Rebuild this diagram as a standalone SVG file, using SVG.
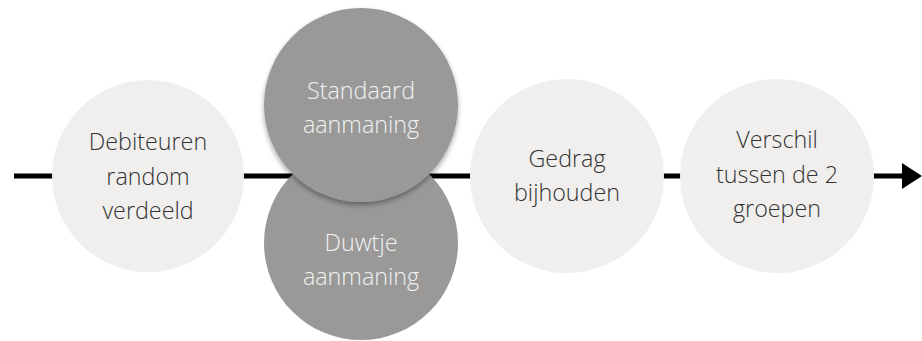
<svg xmlns="http://www.w3.org/2000/svg" width="922" height="341" viewBox="0 0 922 341">
<style>
.light{fill:#f0efee}
.dark{fill:#9a9998}
text{font-family:"Open Sans","Liberation Sans",sans-serif;font-weight:300;font-size:23.3px;text-anchor:middle}
.t1{fill:#333333}
.t2{fill:#f2f2f2}
</style>
<defs>
<filter id="sh" x="-20%" y="-20%" width="140%" height="150%">
<feDropShadow dx="0" dy="3" stdDeviation="2.5" flood-color="#000" flood-opacity="0.35"/>
</filter>
</defs>
<g id="connectors">
<line x1="14" y1="176" x2="904" y2="176" stroke="#000" stroke-width="5"/>
<polygon points="902,163 922,176 902,189" fill="#000"/>
</g>
<g id="n1"><circle class="light" cx="148" cy="176" r="96"/>
<text class="t1" x="148" y="150">Debiteuren</text><text class="t1" x="148" y="184.5">random</text><text class="t1" x="148" y="219">verdeeld</text></g>
<g id="n3"><circle class="dark" cx="361" cy="243" r="97"/>
<text class="t2" x="361" y="251">Duwtje</text><text class="t2" x="361" y="285">aanmaning</text></g>
<g id="n2"><circle class="dark" cx="361" cy="105" r="97" filter="url(#sh)"/>
<text class="t2" x="361" y="99">Standaard</text><text class="t2" x="361" y="133">aanmaning</text></g>
<g id="n4"><circle class="light" cx="567" cy="176" r="97"/>
<text class="t1" x="567" y="167">Gedrag</text><text class="t1" x="567" y="201">bijhouden</text></g>
<g id="n5"><circle class="light" cx="777" cy="176" r="97"/>
<text class="t1" x="777" y="148">Verschil</text><text class="t1" x="777" y="182.5">tussen de 2</text><text class="t1" x="777" y="217">groepen</text></g>
</svg>
